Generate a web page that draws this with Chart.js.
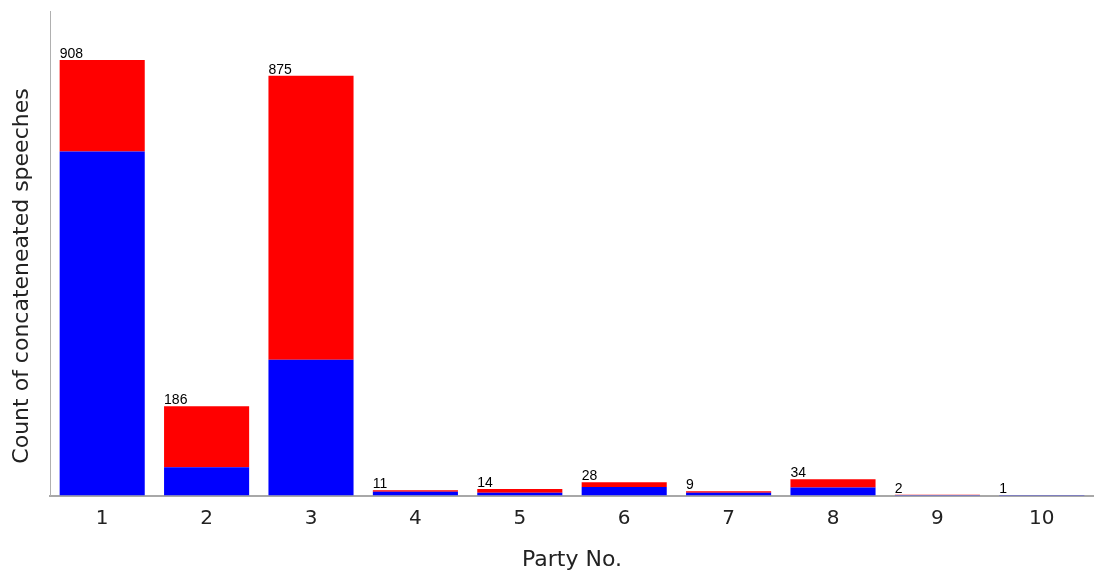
<!DOCTYPE html>
<html>
<head>
<meta charset="utf-8">
<script src="https://cdn.jsdelivr.net/npm/chart.js@4"></script>
<style>
  html, body { margin: 0; padding: 0; background: #fff; overflow: hidden; }
  #wrap { width: 1094px; height: 576px; }
</style>
</head>
<body>
<div id="wrap"><canvas id="chart"></canvas></div>
<script>
// party numbers on the x axis
const parties = ['1', '2', '3', '4', '5', '6', '7', '8', '9', '10'];
// lower (blue) and upper (red) parts of each stack
const blueCounts = [717, 59, 283, 8, 6, 18, 6, 17, 1, 1];
const redCounts = [191, 127, 592, 3, 8, 10, 3, 17, 1, 0];
// totals printed above the bars
const totals = [908, 186, 875, 11, 14, 28, 9, 34, 2, 1];
const yTitle = 'Count of concateneated speeches';

const FONT = 'DejaVu Sans, Verdana, sans-serif';

// totals at the top-left corner of each stack
const totalLabels = {
    id: 'totalLabels',
    afterDatasetsDraw(chart) {
        const ctx = chart.ctx;
        const meta = chart.getDatasetMeta(1);
        ctx.save();
        ctx.font = '14px Liberation Sans, Arial, sans-serif';
        ctx.fillStyle = '#000';
        ctx.textAlign = 'left';
        ctx.textBaseline = 'alphabetic';
        meta.data.forEach((bar, i) => {
            const left = bar.x - bar.width / 2;
            ctx.fillText(String(totals[i]), left, bar.y - 2);
        });
        ctx.restore();
    }
};

// y title sits a bit below the middle of the plot in the original, so draw it by hand
const sideTitle = {
    id: 'sideTitle',
    afterDraw(chart) {
        const ctx = chart.ctx;
        ctx.save();
        ctx.translate(22, 276);
        ctx.rotate(-Math.PI / 2);
        ctx.font = '22px ' + FONT;
        ctx.fillStyle = '#222';
        ctx.textAlign = 'center';
        ctx.textBaseline = 'middle';
        ctx.fillText(yTitle, 0, 0);
        ctx.restore();
    }
};

new Chart(document.getElementById('chart'), {
    type: 'bar',
    data: {
        labels: parties,
        datasets: [
            { label: 'blue', data: blueCounts, backgroundColor: '#0000ff', barPercentage: 0.815, categoryPercentage: 1 },
            { label: 'red', data: redCounts, backgroundColor: '#ff0000', barPercentage: 0.815, categoryPercentage: 1 }
        ]
    },
    options: {
        responsive: true,
        maintainAspectRatio: false,
        animation: false,
        layout: { padding: { left: 50, right: 0, top: 11, bottom: 0 } },
        plugins: { legend: { display: false }, tooltip: { enabled: false } },
        scales: {
            x: {
                stacked: true,
                grid: { display: false },
                border: { display: true, color: '#a8a8a8', width: 2 },
                ticks: { color: '#222', font: { family: FONT, size: 20 }, padding: 3 },
                title: { display: true, text: 'Party No.', color: '#222', font: { family: FONT, size: 22 }, padding: { top: 13, bottom: 3 } }
            },
            y: {
                stacked: true,
                min: 0,
                max: 1010,
                grid: { display: false, drawTicks: false },
                border: { display: true, color: '#b0b0b0', width: 1 },
                ticks: { display: false }
            }
        }
    },
    plugins: [totalLabels, sideTitle]
});
</script>
</body>
</html>
